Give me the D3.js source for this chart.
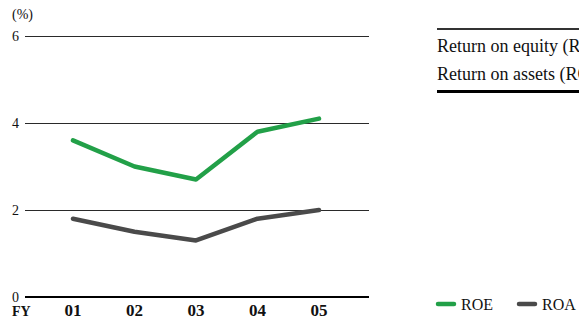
<!DOCTYPE html>
<html lang="en">
<head>
    <meta charset="UTF-8">
    <title>ROE / ROA</title>
    <script src="https://d3js.org/d3.v7.min.js"></script>
    <style>
        body { margin: 0; background: #fff; }
        svg { display: block; }
        svg text { font-family: "Liberation Serif", "Times New Roman", serif; fill: #111; }
        .tick-label { font-size: 14px; }
        .fy-label { font-size: 17px; font-weight: bold; }
        .series { fill: none; stroke-width: 4.5; stroke-linejoin: round; stroke-linecap: round; }
    </style>
</head>
<body>
    <div id="chart"></div>
    <script>
        // chart data
        const years = ["01", "02", "03", "04", "05"];
        const roe = [3.6, 3.0, 2.7, 3.8, 4.1];
        const roa = [1.8, 1.5, 1.3, 1.8, 2.0];
        const yTicks = [0, 2, 4, 6];
        const tableRows = ["Return on equity (ROE)", "Return on assets (ROA)"];
        const legendItems = [
            { name: "ROE", color: "#22a048" },
            { name: "ROA", color: "#4a4a4a" }
        ];

        const W = 579, H = 318;
        const svg = d3.select("#chart").append("svg")
            .attr("width", W)
            .attr("height", H);

        const x = d3.scalePoint().domain(years).range([73, 319]);
        const y = d3.scaleLinear().domain([0, 6]).range([297, 36]);

        // horizontal gridlines
        svg.append("g").selectAll("line")
            .data(yTicks)
            .enter().append("line")
            .attr("x1", 25)
            .attr("x2", 369)
            .attr("y1", d => d === 0 ? y(d) : y(d) + 0.5)
            .attr("y2", d => d === 0 ? y(d) : y(d) + 0.5)
            .style("stroke", d => d === 0 ? "#000" : "#2a2a2a")
            .style("stroke-width", d => d === 0 ? 2 : 1);

        svg.selectAll(".tick-label")
            .data(yTicks)
            .enter().append("text")
            .attr("class", "tick-label")
            .attr("x", 12)
            .attr("y", d => y(d) + 5)
            .text(d => d);

        svg.append("text")
            .attr("class", "tick-label")
            .attr("x", 12)
            .attr("y", 19)
            .style("font-size", "14px")
            .text("(%)");

        // x labels
        svg.append("text")
            .attr("class", "fy-label")
            .attr("x", 12)
            .attr("y", 316)
            .style("font-size", "14px")
            .text("FY");

        svg.selectAll(".year")
            .data(years)
            .enter().append("text")
            .attr("class", "fy-label year")
            .attr("x", d => x(d))
            .attr("y", 316)
            .attr("text-anchor", "middle")
            .text(d => d);

        const line = d3.line()
            .x((d, i) => x(years[i]))
            .y(d => y(d));

        svg.append("path")
            .datum(roa)
            .attr("class", "series")
            .attr("stroke", legendItems[1].color)
            .attr("d", line);

        svg.append("path")
            .datum(roe)
            .attr("class", "series")
            .attr("stroke", legendItems[0].color)
            .attr("d", line);

        // table on the right
        svg.append("line")
            .attr("x1", 437).attr("x2", W)
            .attr("y1", 29).attr("y2", 29)
            .style("stroke", "#333").style("stroke-width", 2);
        svg.append("line")
            .attr("x1", 437).attr("x2", W)
            .attr("y1", 91.5).attr("y2", 91.5)
            .style("stroke", "#000").style("stroke-width", 3);

        svg.selectAll(".row")
            .data(tableRows)
            .enter().append("text")
            .attr("class", "row")
            .attr("x", 437)
            .attr("y", (d, i) => 51.5 + i * 28)
            .style("font-size", "18px")
            .text(d => d);

        // legend
        const leg = svg.selectAll(".legend")
            .data(legendItems)
            .enter().append("g")
            .attr("class", "legend")
            .attr("transform", (d, i) => "translate(" + (437 + i * 81) + ",304)");

        leg.append("line")
            .attr("x1", 1).attr("x2", 17)
            .attr("y1", 0).attr("y2", 0)
            .style("stroke", d => d.color)
            .style("stroke-width", 4.5)
            .style("stroke-linecap", "round");

        leg.append("text")
            .attr("x", 24)
            .attr("y", 5.5)
            .style("font-size", "16px")
            .text(d => d.name);
    </script>
</body>
</html>
